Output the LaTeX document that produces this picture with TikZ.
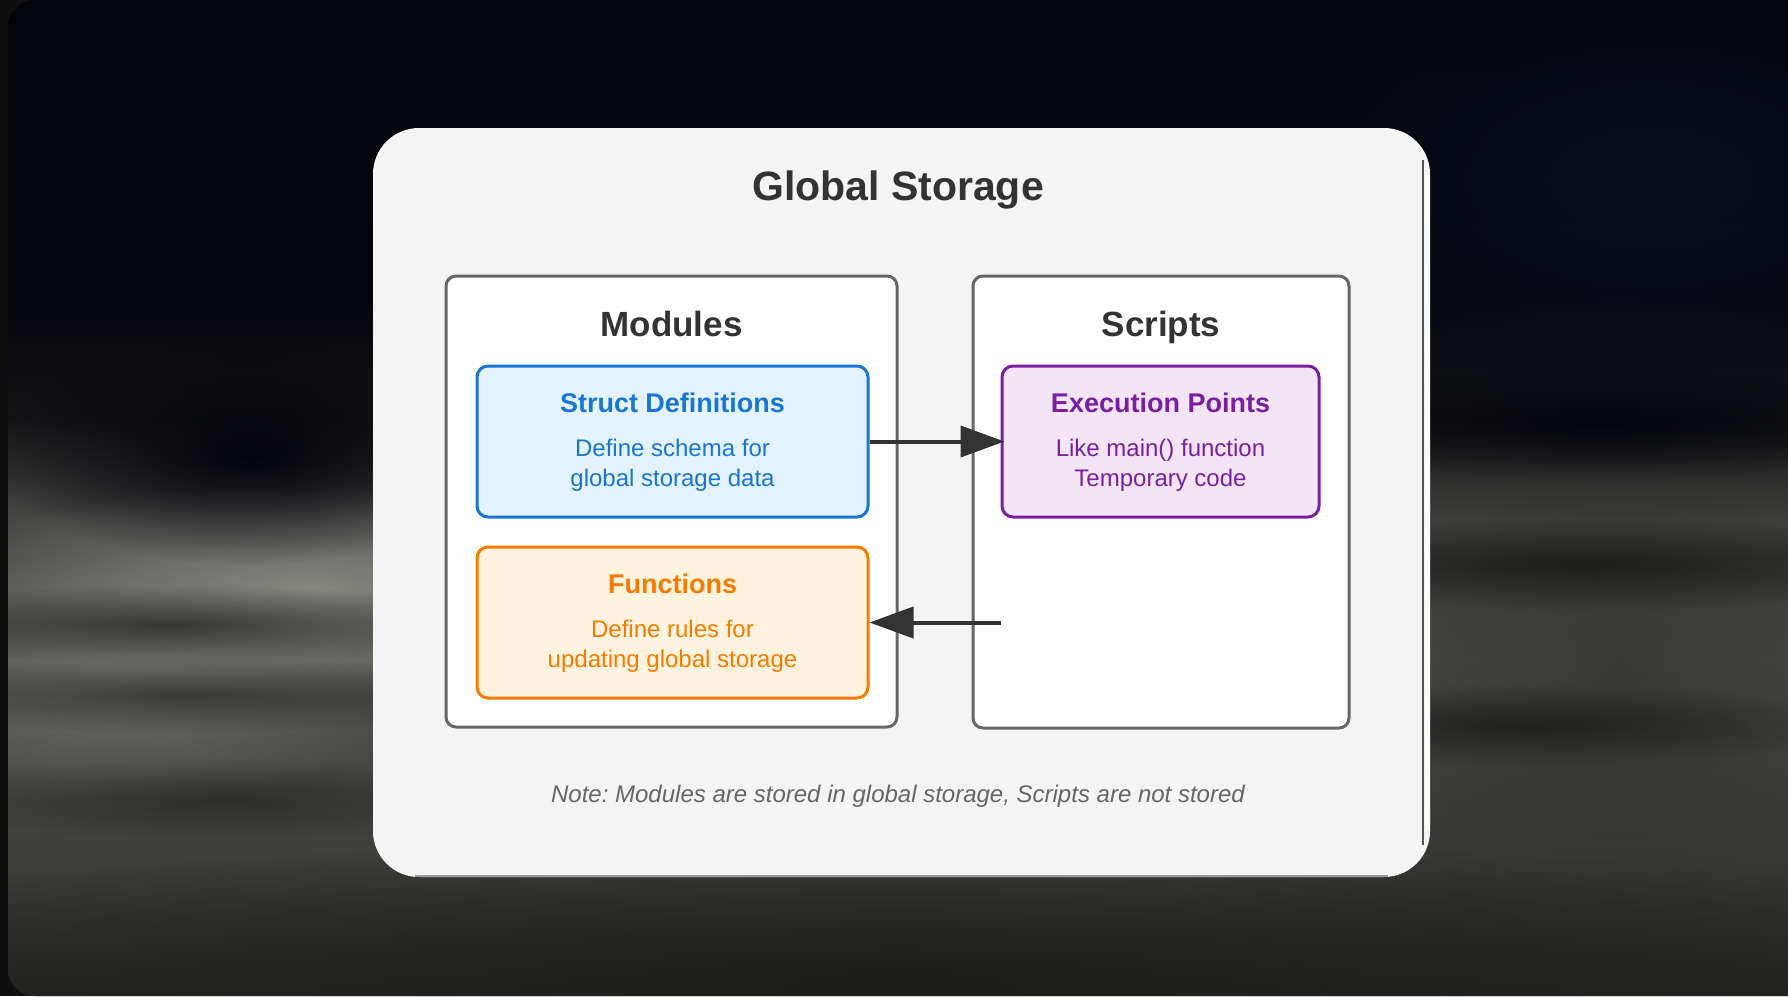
\documentclass[tikz,border=0pt]{standalone}
\usepackage{fontspec}
\setmainfont{Liberation Sans}
\usetikzlibrary{arrows.meta,fadings}
\frenchspacing
\definecolor{stripc}{HTML}{0F0F0F}
\definecolor{bgTop}{HTML}{03040A}
\definecolor{bgA}{HTML}{05060C}
\definecolor{bgB}{HTML}{141416}
\definecolor{bgC}{HTML}{474745}
\definecolor{bgD}{HTML}{52524E}
\definecolor{bgE}{HTML}{3E3E3B}
\definecolor{bgF}{HTML}{252523}
\definecolor{cardbg}{HTML}{F4F4F4}
\definecolor{grayb}{HTML}{666666}
\definecolor{darktext}{HTML}{333333}
\definecolor{notetext}{HTML}{666666}
\definecolor{blueB}{HTML}{1976D2}
\definecolor{blueF}{HTML}{E3F2FD}
\definecolor{orangeB}{HTML}{F57C00}
\definecolor{orangeF}{HTML}{FFF3E0}
\definecolor{purpleB}{HTML}{7B1FA2}
\definecolor{purpleF}{HTML}{F3E5F5}
\definecolor{lightcloud}{HTML}{8E8E89}
\definecolor{darkcloud}{HTML}{1C1C1A}
\definecolor{navy}{HTML}{0A1022}
\pgfdeclareverticalshading{bgshade}{100bp}{color(0bp)=(bgF); color(25bp)=(bgF); color(32bp)=(bgE); color(42bp)=(bgD); color(49bp)=(bgC); color(54bp)=(bgB); color(60bp)=(bgA); color(75bp)=(bgTop); color(100bp)=(bgTop)}
\tikzfading[name=softblob, inner color=transparent!0, outer color=transparent!100]
\begin{document}
\begin{tikzpicture}[x=1pt,y=-1pt,
  card/.style={draw=none, fill=cardbg, rounded corners=46pt, inner sep=0pt},
  groupbox/.style={draw=grayb, line width=3pt, fill=white, rounded corners=10pt, inner sep=0pt},
  itembox/.style={line width=3pt, rounded corners=11pt, inner sep=0pt, minimum width=391pt, minimum height=151pt},
  maintitle/.style={font=\fontsize{41}{49}\selectfont\bfseries, text=darktext, anchor=base, inner sep=0pt},
  grouphead/.style={font=\fontsize{35}{42}\selectfont\bfseries, text=darktext, anchor=base, inner sep=0pt},
  itemtitle/.style={font=\fontsize{27}{32}\selectfont\bfseries, anchor=base, inner sep=0pt},
  itembody/.style={font=\fontsize{24}{30}\selectfont, anchor=base, inner sep=0pt},
  notestyle/.style={font=\fontsize{24}{30}\selectfont\itshape, text=notetext, anchor=base, inner sep=0pt},
  arr/.style={draw=darktext, line width=4pt, -{Triangle[length=44pt,width=31pt]}},
  cloud/.style={path fading=softblob}
]
\useasboundingbox (0,0) rectangle (1788,996);
% background
\fill[stripc] (0,0) rectangle (1788,996);
\shade[shading=bgshade] (1788,0) [rounded corners=27pt] -- (8,0) -- (8,996) [sharp corners] -- (1788,996) -- cycle;
\begin{scope}
\clip (1788,0) [rounded corners=27pt] -- (8,0) -- (8,996) [sharp corners] -- (1788,996) -- cycle;
\fill[navy, cloud, opacity=0.8] (1650,180) ellipse [x radius=520, y radius=280];
\fill[lightcloud, cloud, opacity=0.9] (310,590) ellipse [x radius=380, y radius=110];
\fill[lightcloud, cloud, opacity=0.5] (120,680) ellipse [x radius=300, y radius=130];
\fill[bgTop, cloud, opacity=1] (250,455) ellipse [x radius=260, y radius=110];
\fill[darkcloud, cloud, opacity=0.7] (170,625) ellipse [x radius=360, y radius=40];
\fill[darkcloud, cloud, opacity=0.6] (180,695) ellipse [x radius=360, y radius=38];
\fill[darkcloud, cloud, opacity=0.55] (220,800) ellipse [x radius=320, y radius=40];
\fill[darkcloud, cloud, opacity=0.45] (1620,660) ellipse [x radius=520, y radius=400];
\fill[bgTop, cloud, opacity=0.9] (1600,425) ellipse [x radius=420, y radius=55];
\fill[black, cloud, opacity=0.5] (1580,565) ellipse [x radius=440, y radius=45];
\fill[black, cloud, opacity=0.45] (1520,725) ellipse [x radius=340, y radius=40];
\fill[darkcloud, cloud, opacity=0.9] (900,980) ellipse [x radius=1300, y radius=140];
\end{scope}
% card
\node[card, minimum width=1057pt, minimum height=749pt] (card) at (901.5,502.5) {};
\draw[grayb!80!black, line width=2pt] (1423,160) -- (1423,845);
\draw[white, line width=5pt] (1427,175) -- (1427,830);
\draw[gray!80, line width=2pt] (415,876) -- (1388,876);
% title
\node[maintitle] (title) at (898,200.5) {Global Storage};
% group boxes
\node[groupbox, minimum width=451pt, minimum height=451pt] (modules) at (671.5,501.5) {};
\node[groupbox, minimum width=376pt, minimum height=452pt] (scripts) at (1161,502) {};
\node[grouphead] (modhead) at (671.5,336.7) {Modules};
\node[grouphead] (scrhead) at (1161,336.7) {Scripts};
% items
\node[itembox, draw=blueB, fill=blueF] (struct) at (672.5,441.5) {};
\node[itembox, draw=orangeB, fill=orangeF] (functions) at (672.5,622.5) {};
\node[itembox, draw=purpleB, fill=purpleF, minimum width=317pt] (exec) at (1160.5,441.5) {};
\node[itemtitle, text=blueB] (structT) at (672.5,412.3) {Struct Definitions};
\node[itembody, text=blueB] (structA) at (672.5,456.7) {Define schema for};
\node[itembody, text=blueB] (structB) at (672.5,486.5) {global storage data};
\node[itemtitle, text=orangeB] (funcT) at (672.5,593) {Functions};
\node[itembody, text=orangeB] (funcA) at (672.5,637.3) {Define rules for};
\node[itembody, text=orangeB] (funcB) at (672.5,667.3) {updating global storage};
\node[itemtitle, text=purpleB] (execT) at (1160.5,412.3) {Execution Points};
\node[itembody, text=purpleB] (execA) at (1160.5,456.7) {Like main() function};
\node[itembody, text=purpleB] (execB) at (1160.5,486.5) {Temporary code};
% arrows
\draw[arr] (struct.east) -- ([xshift=4pt]exec.west);
\coordinate (backstart) at (exec.west |- functions.east);
\draw[arr] (backstart) -- (functions.east);
% note
\node[notestyle] (note) at (898,802.3) {Note: Modules are stored in global storage, Scripts are not stored};
\end{tikzpicture}
\end{document}
